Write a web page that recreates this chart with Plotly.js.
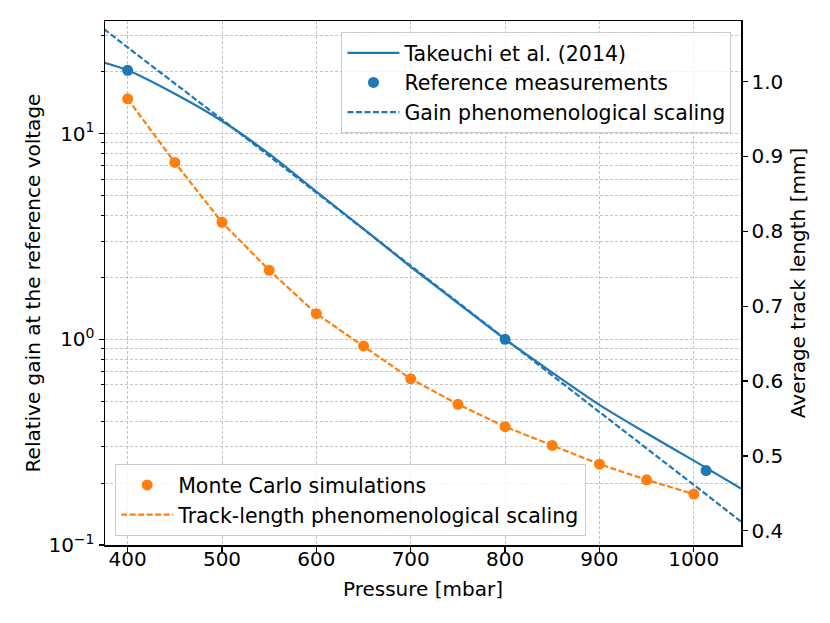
<!DOCTYPE html>
<html>
<head>
<meta charset="utf-8">
<script src="https://cdn.plot.ly/plotly-3.0.1.min.js"></script>
<style>
  html, body { margin: 0; padding: 0; background: #fff; }
  #chart { width: 830px; height: 623px; }
</style>
</head>
<body>
<div id="chart"></div>
<script>
// gain curves (left, log axis)
const pressureTakeuchi = [375, 400, 450, 500, 550, 600, 650, 700, 750, 800, 850, 900, 950, 1000, 1050];
const gainTakeuchi = [22.1, 20.3, 15.6, 11.5, 7.96, 5.22, 3.44, 2.25, 1.50, 1.00, 0.689, 0.480, 0.349, 0.257, 0.188];

const pressureRef = [400, 800, 1013];
const gainRef = [20.3, 1.0, 0.23];

const pressureGainScaling = [375, 400, 500, 600, 700, 800, 900, 1000, 1050];
const gainScaling = [32.2, 26.2, 11.7, 5.15, 2.27, 1.0, 0.443, 0.196, 0.130];

// track length (right axis)
const pressureMC = [400, 450, 500, 550, 600, 650, 700, 750, 800, 850, 900, 950, 1000];
const trackMC = [0.977, 0.892, 0.812, 0.748, 0.690, 0.647, 0.603, 0.569, 0.539, 0.514, 0.489, 0.468, 0.449];
const trackScaling = [0.977, 0.892, 0.812, 0.748, 0.690, 0.647, 0.603, 0.569, 0.539, 0.514, 0.489, 0.468, 0.449];

const pressureRange = [376, 1050];
const gainTicks = [0.1, 1, 10];
const gainTickText = ['10<sup>\u22121</sup>', '10<sup>0</sup>', '10<sup>1</sup>'];

const blue = '#1f77b4';
const orange = '#ff7f0e';
const gridCol = '#c4c4c4';

const traces = [
  {
    x: pressureTakeuchi, y: gainTakeuchi, name: 'Takeuchi et al. (2014)',
    mode: 'lines', line: {color: blue, width: 2.2, shape: 'spline', smoothing: 0.6},
    xaxis: 'x', yaxis: 'y', legend: 'legend'
  },
  {
    x: pressureRef, y: gainRef, name: 'Reference measurements',
    mode: 'markers', marker: {color: blue, size: 11},
    xaxis: 'x', yaxis: 'y', legend: 'legend'
  },
  {
    x: pressureGainScaling, y: gainScaling, name: 'Gain phenomenological scaling',
    mode: 'lines', line: {color: blue, width: 2.2, dash: '6px,2.5px'},
    xaxis: 'x', yaxis: 'y', legend: 'legend'
  },
  {
    x: pressureMC, y: trackMC, name: 'Monte Carlo simulations',
    mode: 'markers', marker: {color: orange, size: 11},
    xaxis: 'x2', yaxis: 'y2', legend: 'legend2'
  },
  {
    x: pressureMC, y: trackScaling, name: 'Track-length phenomenological scaling',
    mode: 'lines', line: {color: orange, width: 2.2, dash: '6px,2.5px'},
    xaxis: 'x2', yaxis: 'y2', legend: 'legend2'
  }
];

const font = {family: 'DejaVu Sans, sans-serif', color: '#000', size: 20};

const layout = {
  width: 830, height: 623,
  margin: {l: 105, r: 89, t: 21, b: 78},
  paper_bgcolor: '#fff', plot_bgcolor: '#fff',
  font: font,
  showlegend: true,
  // frame, tick marks and grid
  xaxis: {
    range: pressureRange, tick0: 0, dtick: 100,
    ticks: 'outside', ticklen: 5, tickwidth: 1.3, tickcolor: '#000',
    showticklabels: false,
    showline: true, linecolor: '#000', linewidth: 1.5, mirror: true,
    showgrid: true, gridcolor: gridCol, gridwidth: 1, griddash: '3px,2px',
    zeroline: false
  },
  // same pressure scale, carries the labels (sits a bit closer to the frame)
  xaxis2: {
    overlaying: 'x', anchor: 'y', side: 'bottom',
    range: pressureRange, tick0: 0, dtick: 100,
    ticks: '', showline: false, showgrid: false, zeroline: false,
    tickfont: {size: 20},
    title: {text: 'Pressure [mbar]', font: {size: 20}, standoff: 11}
  },
  yaxis: {
    type: 'log', range: [-1, 1.547],
    tickmode: 'array', tickvals: gainTicks, ticktext: gainTickText,
    ticks: 'outside', ticklen: 5, tickwidth: 1.3, tickcolor: '#000',
    showline: true, linecolor: '#000', linewidth: 1.5,
    showgrid: true, gridcolor: gridCol, gridwidth: 1, griddash: '3px,2px',
    minor: {dtick: 'D1', ticks: 'outside', ticklen: 3, tickwidth: 1, tickcolor: '#000',
            showgrid: true, gridcolor: gridCol, gridwidth: 1, griddash: '3px,2px'},
    zeroline: false, tickfont: {size: 20},
    title: {text: 'Relative gain at the reference voltage', font: {size: 20}, standoff: 2}
  },
  yaxis2: {
    overlaying: 'y', anchor: 'x', side: 'right', range: [0.381, 1.081],
    tick0: 0, dtick: 0.1, tickformat: '.1f',
    ticks: 'outside', ticklen: 5, tickwidth: 1.3, tickcolor: '#000',
    showline: true, linecolor: '#000', linewidth: 1.5,
    showgrid: false, zeroline: false, tickfont: {size: 20},
    title: {text: 'Average track length [mm]', font: {size: 20}, standoff: 8}
  },
  legend: {
    x: 0.985, y: 0.979, xanchor: 'right', yanchor: 'top',
    bgcolor: 'rgba(255,255,255,0.8)', bordercolor: '#cccccc', borderwidth: 1,
    font: {size: 20.5}, tracegroupgap: 0, itemwidth: 52
  },
  legend2: {
    x: 0.016, y: 0.017, xanchor: 'left', yanchor: 'bottom',
    bgcolor: 'rgba(255,255,255,0.8)', bordercolor: '#cccccc', borderwidth: 1,
    font: {size: 20.5}, tracegroupgap: 0, itemwidth: 52
  }
};

Plotly.newPlot('chart', traces, layout, {displayModeBar: false, staticPlot: true});
</script>
</body>
</html>
